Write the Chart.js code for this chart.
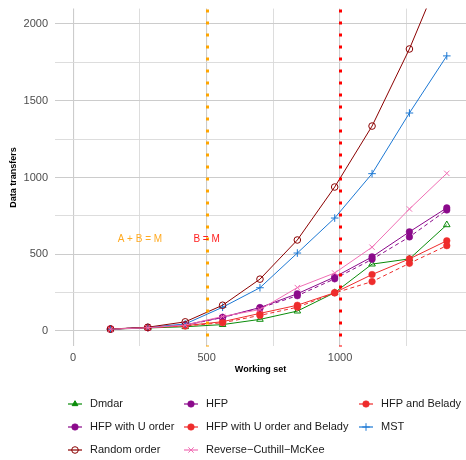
<!DOCTYPE html>
<html>
<head>
<meta charset="utf-8">
<script src="https://cdn.jsdelivr.net/npm/chart.js@4.4.1/dist/chart.umd.min.js"></script>
<style>
    html, body { margin: 0; padding: 0; background: #fff; }
    canvas { display: block; }
</style>
</head>
<body>
<canvas id="transfers-chart" width="466" height="460"></canvas>
<script>

// data
const workingSet = [140, 280, 420, 560, 700, 840, 980, 1120, 1260, 1400];
const dmdar      = [12, 20, 28, 42, 76, 130, 250, 436, 470, 692];
const hfp        = [13, 22, 40, 90, 153, 243, 352, 483, 646, 802];
const hfpU       = [13, 22, 38, 88, 150, 230, 340, 467, 613, 788];
const hfpBelady  = [13, 22, 35, 61, 115, 168, 250, 368, 470, 588];
const hfpUBelady = [13, 22, 33, 54, 102, 155, 248, 322, 441, 556];
const mst        = [12, 24, 46, 155, 282, 508, 736, 1025, 1420, 1792];
const randomOrd  = [13, 25, 60, 168, 338, 593, 938, 1335, 1837, 2420];
const rcm        = [12, 22, 39, 95, 140, 283, 378, 546, 795, 1027];

const xTicks = [0, 250, 500, 750, 1000, 1250];
const yTicks = [0, 250, 500, 750, 1000, 1250, 1500, 1750, 2000];

const refLines = [
    { x: 500, color: '#FFA500' },
    { x: 1000, color: '#FF0000' }
];
const notes = [
    { text: 'A + B = M', x: 250, y: 600, color: '#FFAA22' },
    { text: 'B = M', x: 500, y: 600, color: '#FF2020' }
];

Chart.defaults.font.family = '"Liberation Sans", Arial, sans-serif';

function series(label, values, color, style, dashed, filled) {
    return {
        label: label,
        data: values.map((v, i) => ({ x: workingSet[i], y: v })),
        borderColor: color,
        backgroundColor: filled ? color : 'rgba(0,0,0,0)',
        borderWidth: 1,
        borderDash: dashed ? [4, 3] : [],
        pointStyle: style,
        pointRadius: style === 'circle' ? 3.3 : 3.8,
        pointBorderWidth: style === 'circle' && filled ? 0.5 : 1,
        pointBorderColor: color,
        pointBackgroundColor: filled ? color : 'rgba(0,0,0,0)',
        tension: 0,
        fill: false
    };
}

const datasets = [
    series('Dmdar', dmdar, '#0A8C0A', 'triangle', false, false),
    series('HFP', hfp, '#8B0A8B', 'circle', false, true),
    series('HFP and Belady', hfpBelady, '#EE2C2C', 'circle', false, true),
    series('HFP with U order', hfpU, '#8B0A8B', 'circle', true, true),
    series('HFP with U order and Belady', hfpUBelady, '#EE2C2C', 'circle', true, true),
    series('MST', mst, '#1C78D4', 'cross', false, false),
    series('Random order', randomOrd, '#8B0000', 'circle', false, false),
    series('Reverse\u2212Cuthill\u2212McKee', rcm, '#F06EB4', 'crossRot', false, false)
];
datasets.forEach((d, i) => { d.order = datasets.length - i; });

const extras = {
    id: 'extras',
    afterDatasetsDraw(chart) {
        const ctx = chart.ctx;
        const xs = chart.scales.x, ys = chart.scales.y;
        const area = chart.chartArea;
        ctx.save();
        refLines.forEach(r => {
            const px = Math.round(xs.getPixelForValue(r.x)) + 0.5;
            ctx.strokeStyle = r.color;
            ctx.lineWidth = 3;
            ctx.setLineDash([3, 9]);
            ctx.beginPath();
            ctx.moveTo(px, area.top + 1);
            ctx.lineTo(px, area.bottom);
            ctx.stroke();
        });
        ctx.setLineDash([]);
        ctx.font = '10px "Liberation Sans", Arial, sans-serif';
        ctx.textAlign = 'center';
        ctx.textBaseline = 'middle';
        notes.forEach(n => {
            ctx.fillStyle = n.color;
            ctx.fillText(n.text, xs.getPixelForValue(n.x), ys.getPixelForValue(n.y));
        });
        ctx.restore();
    },
    afterDraw(chart) {
        const ctx = chart.ctx;
        const area = chart.chartArea;
        ctx.save();
        // axis titles
        ctx.fillStyle = '#000';
        ctx.font = 'bold 9px "Liberation Sans", Arial, sans-serif';
        ctx.textAlign = 'center';
        ctx.textBaseline = 'middle';
        ctx.fillText('Working set', (area.left + area.right) / 2, 370);
        ctx.translate(14, (area.top + area.bottom) / 2);
        ctx.rotate(-Math.PI / 2);
        ctx.fillText('Data transfers', 0, 0);
        ctx.restore();

        // legend, 3 columns filled by row
        const keyX = [75, 191, 366];
        const rowY = [404, 427, 450];
        ctx.save();
        ctx.font = '11px "Liberation Sans", Arial, sans-serif';
        ctx.textBaseline = 'middle';
        ctx.textAlign = 'left';
        chart.data.datasets.forEach((d, i) => {
            const cx = keyX[i % 3], cy = rowY[Math.floor(i / 3)];
            ctx.strokeStyle = d.borderColor;
            ctx.lineWidth = 1.2;
            ctx.setLineDash([]);
            ctx.beginPath();
            ctx.moveTo(cx - 7, cy);
            ctx.lineTo(cx + 7, cy);
            ctx.stroke();
            ctx.fillStyle = d.pointStyle === 'triangle' ? d.borderColor : d.pointBackgroundColor;
            ctx.strokeStyle = d.pointBorderColor;
            ctx.lineWidth = d.pointBorderWidth;
            Chart.helpers.drawPoint(ctx, {
                pointStyle: d.pointStyle,
                radius: d.pointStyle === 'triangle' ? 3.3 : d.pointRadius,
                rotation: 0,
                borderWidth: d.pointBorderWidth
            }, cx, cy);
            ctx.fillStyle = '#1a1a1a';
            ctx.fillText(d.label, cx + 15, cy);
        });
        ctx.restore();
    }
};

function gridFor() {
    return {
        color: ctx => (ctx.tick && ctx.tick.value % 500 === 0) ? '#cccccc' : '#d9d9d9',
        lineWidth: ctx => (ctx.tick && ctx.tick.value % 500 === 0) ? 1.1 : 0.9,
        drawTicks: true,
        tickLength: 5,
        tickColor: 'rgba(0,0,0,0)'
    };
}

new Chart(document.getElementById('transfers-chart'), {
    type: 'line',
    data: { datasets: datasets },
    options: {
        responsive: false,
        animation: false,
        layout: { autoPadding: false, padding: { top: 8.6, left: 0, right: 0, bottom: 0 } },
        plugins: {
            legend: { display: false },
            tooltip: { enabled: false }
        },
        scales: {
            x: {
                type: 'linear',
                min: -68,
                max: 1472,
                border: { display: false },
                grid: gridFor(),
                afterBuildTicks: s => { s.ticks = xTicks.map(v => ({ value: v })); },
                afterFit: s => {
                    s.height = 113.6;
                    s.paddingLeft = 0;
                    s.paddingRight = 0;
                },
                ticks: {
                    color: '#4d4d4d',
                    font: { size: 11 },
                    padding: 0,
                    maxRotation: 0,
                    callback: v => (v % 500 === 0 ? String(v) : '')
                }
            },
            y: {
                type: 'linear',
                min: -100,
                max: 2100,
                border: { display: false },
                grid: gridFor(),
                afterBuildTicks: s => { s.ticks = yTicks.map(v => ({ value: v })); },
                afterFit: s => {
                    s.width = 55;
                    s.paddingTop = 0;
                    s.paddingBottom = 0;
                },
                ticks: {
                    color: '#4d4d4d',
                    font: { size: 11 },
                    padding: 2,
                    callback: v => (v % 500 === 0 ? String(v) : '')
                }
            }
        }
    },
    plugins: [extras]
});
</script>
</body>
</html>
